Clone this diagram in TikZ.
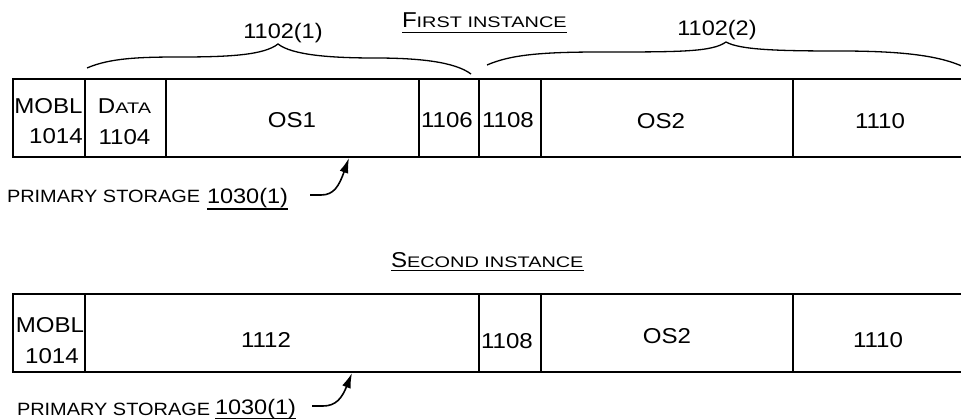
\documentclass[tikz,border=0pt]{standalone}
\usepackage{fontspec}
\setmainfont{Liberation Sans}
\newfontfamily\mf[FakeStretch=1.12]{Liberation Sans}
\newfontfamily\scf[FakeStretch=1.3]{Liberation Sans}
\usetikzlibrary{arrows.meta}
\newcommand\capbig[1]{{\mf\fontsize{21.5}{26}\selectfont #1}}
\newcommand\capsmall[1]{{\scf\fontsize{15.3}{18}\selectfont #1}}
\tikzset{
  cell/.style={draw, line width=1.6pt, inner sep=0pt, outer sep=0pt, minimum height=78pt},
  txt/.style={inner sep=0pt, outer sep=0pt, anchor=base, font=\mf\fontsize{21.5}{26}\selectfont},
  lbl/.style={inner sep=0pt, outer sep=0pt, anchor=base west, font=\mf\fontsize{17.8}{20}\selectfont},
  num/.style={inner sep=0pt, outer sep=0pt, anchor=base west, font=\mf\fontsize{21}{25}\selectfont},
  ttl/.style={inner sep=0pt, outer sep=0pt, anchor=base west},
  uline/.style={line width=1.5pt},
  brace/.style={line width=1.3pt},
  arr/.style={line width=1.6pt, -{Latex[length=15pt,width=9pt]}}
}
\begin{document}
\begin{tikzpicture}[x=1pt,y=-1pt]
\useasboundingbox (0,0) rectangle (961,420);
\clip (0,0) rectangle (961,420);
% ---- first instance ----
\node[ttl] (first) at (402,28) {\capbig{F}\capsmall{IRST INSTANCE}};
\draw[uline] ([yshift=-4.5pt]first.base west) -- ([yshift=-4.5pt]first.base east);
\node[txt, font=\mf\fontsize{21}{25}\selectfont] (g1) at (283,39) {1102(1)};
\node[txt, font=\mf\fontsize{21}{25}\selectfont] (g2) at (717,36) {1102(2)};
\draw[brace] (87,68) .. controls (110,58) and (140,57) .. (180,57)
  .. controls (230,57) and (264,55) .. (278,44)
  .. controls (292,55) and (330,58) .. (375,58)
  .. controls (420,58) and (455,62) .. (471,74);
\draw[brace] (487,65) .. controls (510,55) and (540,52) .. (600,52)
  .. controls (680,52) and (712,52) .. (726,42)
  .. controls (740,50) and (780,51) .. (840,51)
  .. controls (910,51) and (945,57) .. (968,69);
\node[cell, minimum width=72pt]  (t1) at (49,118) {};
\node[cell, minimum width=81pt]  (t2) at (125.5,118) {};
\node[cell, minimum width=253pt] (t3) at (292.5,118) {};
\node[cell, minimum width=60pt]  (t4) at (449,118) {};
\node[cell, minimum width=62pt]  (t5) at (510,118) {};
\node[cell, minimum width=252pt] (t6) at (667,118) {};
\node[cell, minimum width=174pt] (t7) at (880,118) {};
\node[txt] (t1a) at (48.5,113) {MOBL};
\node[txt] (t1b) at (56,143) {1014};
\node[txt] (t2a) at (124.5,113) {\capbig{D}\capsmall{ATA}};
\node[txt] (t2b) at (124.5,144) {1104};
\node[txt] (t3a) at (292,127) {OS1};
\node[txt] (t4a) at (447,127) {1106};
\node[txt] (t5a) at (508,127) {1108};
\node[txt] (t6a) at (661,128) {OS2};
\node[txt] (t7a) at (880,128) {1110};
\node[lbl] (ps1) at (7,202) {PRIMARY STORAGE};
\node[num] (ps1n) at (207,203) {1030(1)};
\draw[uline] ([yshift=-6pt]ps1n.base west) -- ([yshift=-6pt]ps1n.base east);
\coordinate (a1s) at (310,195);
\coordinate (a1t) at (349,158);
\draw[arr] (a1s) -- ++(11,0) .. controls (334,195) and (339,186) .. (a1t);
% ---- second instance ----
\node[ttl] (second) at (391,267) {\capbig{S}\capsmall{ECOND INSTANCE}};
\draw[uline] ([yshift=-3.5pt]second.base west) -- ([yshift=-3.5pt]second.base east);
\node[cell, minimum width=72pt]  (b1) at (49,333) {};
\node[cell, minimum width=394pt] (b2) at (282,333) {};
\node[cell, minimum width=62pt]  (b3) at (510,333) {};
\node[cell, minimum width=252pt] (b4) at (667,333) {};
\node[cell, minimum width=174pt] (b5) at (880,333) {};
\node[txt] (b1a) at (50,332) {MOBL};
\node[txt] (b1b) at (52,363) {1014};
\node[txt] (b2a) at (266,347) {1112};
\node[txt] (b3a) at (507,348) {1108};
\node[txt] (b4a) at (667,343) {OS2};
\node[txt] (b5a) at (878,347) {1110};
\node[lbl] (ps2) at (17,415) {PRIMARY STORAGE};
\node[num] (ps2n) at (215,414.5) {1030(1)};
\draw[uline] ([yshift=-4pt]ps2n.base west) -- ([yshift=-4pt]ps2n.base east);
\coordinate (a2s) at (312,406);
\coordinate (a2t) at (352,373);
\draw[arr] (a2s) -- ++(11,0) .. controls (336,406) and (342,398) .. (a2t);
\end{tikzpicture}
\end{document}
